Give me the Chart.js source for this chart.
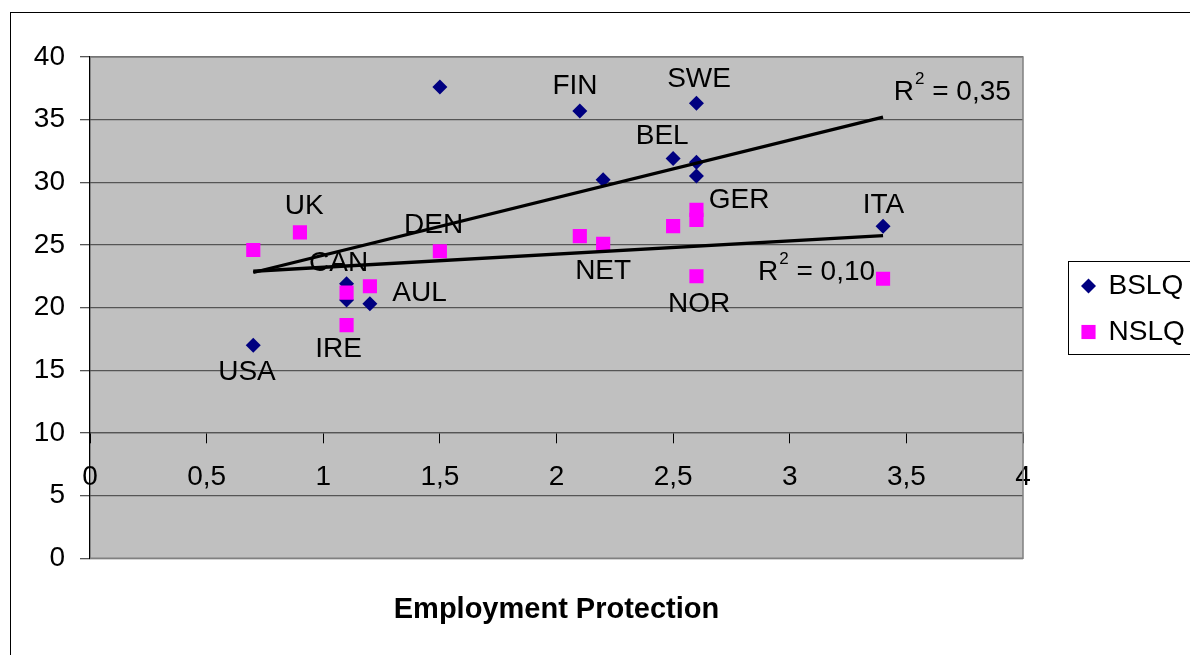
<!DOCTYPE html>
<html>
<head>
<meta charset="utf-8">
<script src="https://cdn.jsdelivr.net/npm/chart.js@4.4.1/dist/chart.umd.min.js"></script>
<style>
  html, body { margin: 0; padding: 0; background: #fff; }
</style>
</head>
<body>
<canvas id="chart" width="1190" height="655"></canvas>
<script>
// Values
const bslqX = [0.7, 1.1, 1.1, 1.2, 1.5, 2.1, 2.2, 2.5, 2.6, 2.6, 2.6, 3.4];
const bslqY = [17.0, 21.9, 20.6, 20.3, 37.6, 35.7, 30.2, 31.9, 31.6, 30.5, 36.3, 26.5];

const nslqX = [0.7, 0.9, 1.1, 1.1, 1.2, 1.5, 2.1, 2.2, 2.5, 2.6, 2.6, 2.6, 3.4];
const nslqY = [24.6, 26.0, 21.2, 18.6, 21.7, 24.5, 25.7, 25.1, 26.5, 27.8, 27.0, 22.5, 22.3];

// trend line ends
const trendX = [0.7, 3.4];
const bslqTrendY = [22.8, 35.2];
const nslqTrendY = [22.9, 25.75];

// country labels (data units)
const labelText = ['USA', 'UK', 'CAN', 'AUL', 'IRE', 'DEN', 'FIN', 'SWE', 'BEL', 'GER', 'NET', 'NOR', 'ITA'];
const labelX = [0.673, 0.918, 1.066, 1.413, 1.066, 1.473, 2.079, 2.611, 2.453, 2.783, 2.2, 2.611, 3.402];
const labelY = [14.8, 28.07, 23.56, 21.17, 16.71, 26.56, 37.69, 38.22, 33.7, 28.6, 22.9, 20.3, 28.2];

// R² texts
const r2Text = ['0,35', '0,10'];
const r2X = [3.446, 2.864];
const r2Y = [36.57, 22.23];

const xTicks = ['0', '0,5', '1', '1,5', '2', '2,5', '3', '3,5', '4'];
const yTicks = ['0', '5', '10', '15', '20', '25', '30', '35', '40'];

const FONT = "'Liberation Sans', Arial, sans-serif";
Chart.defaults.font.family = FONT;
Chart.defaults.font.size = 28;
Chart.defaults.color = '#000';

const toPoints = (xs, ys) => xs.map((x, i) => ({ x: x, y: ys[i] }));

// background, plot area, outer frame
const framePlugin = {
  id: 'frame',
  beforeDraw: (chart) => {
    const ctx = chart.ctx;
    const a = chart.chartArea;
    ctx.save();
    ctx.fillStyle = '#fff';
    ctx.fillRect(0, 0, chart.width, chart.height);
    ctx.fillStyle = '#c0c0c0';
    ctx.fillRect(a.left, a.top, a.right - a.left, a.bottom - a.top);
    ctx.strokeStyle = '#000';
    ctx.lineWidth = 1;
    ctx.strokeRect(10.5, 12.5, 1400, 1000);
    ctx.restore();
  },
  afterDraw: (chart) => {
    const ctx = chart.ctx;
    const a = chart.chartArea;
    ctx.save();
    ctx.strokeStyle = '#808080';
    ctx.lineWidth = 1.5;
    ctx.beginPath();
    ctx.moveTo(a.left, a.top);
    ctx.lineTo(a.right, a.top);
    ctx.lineTo(a.right, a.bottom);
    ctx.lineTo(a.left, a.bottom);
    ctx.stroke();

    // legend box
    const lx = a.right + 45.5;
    const ly = 261.5;
    ctx.strokeStyle = '#000';
    ctx.lineWidth = 1;
    ctx.strokeRect(lx, ly, 300, 93);
    const rows = [286, 332];
    chart.data.datasets.slice(0, 2).forEach((ds, i) => {
      ctx.fillStyle = ds.backgroundColor;
      Chart.helpers.drawPoint(ctx, { pointStyle: ds.pointStyle, radius: ds.pointRadius, rotation: 0, borderWidth: 0 }, lx + 20, rows[i]);
      ctx.fillStyle = '#000';
      ctx.font = '28px ' + FONT;
      ctx.textAlign = 'left';
      ctx.textBaseline = 'middle';
      ctx.fillText(ds.label, lx + 40, rows[i]);
    });
    ctx.restore();
  }
};

// country names and R² texts
const labelPlugin = {
  id: 'labels',
  afterDatasetsDraw: (chart) => {
    const ctx = chart.ctx;
    const xs = chart.scales.x;
    const ys = chart.scales.y;
    ctx.save();
    ctx.fillStyle = '#000';
    ctx.font = '28px ' + FONT;
    ctx.textAlign = 'center';
    ctx.textBaseline = 'middle';
    labelText.forEach((t, i) => {
      ctx.fillText(t, xs.getPixelForValue(labelX[i]), ys.getPixelForValue(labelY[i]));
    });

    ctx.textAlign = 'left';
    ctx.textBaseline = 'alphabetic';
    r2Text.forEach((t, i) => {
      let px = xs.getPixelForValue(r2X[i]);
      const py = ys.getPixelForValue(r2Y[i]);
      ctx.font = '28px ' + FONT;
      ctx.fillText('R', px, py);
      px += ctx.measureText('R').width + 1;
      ctx.font = '17px ' + FONT;
      ctx.fillText('2', px, py - 16);
      px += ctx.measureText('2').width;
      ctx.font = '28px ' + FONT;
      ctx.fillText(' = ' + t, px, py);
    });
    ctx.restore();
  }
};

const data = {
  datasets: [
    {
      label: 'BSLQ',
      data: toPoints(bslqX, bslqY),
      backgroundColor: '#000080',
      pointStyle: 'rectRot',
      pointRadius: 7.5,
      pointBorderWidth: 0,
      order: 2
    },
    {
      label: 'NSLQ',
      data: toPoints(nslqX, nslqY),
      backgroundColor: '#ff00ff',
      pointStyle: 'rect',
      pointRadius: 10,
      pointBorderWidth: 0,
      order: 1
    },
    {
      label: 'BSLQ trend',
      data: toPoints(trendX, bslqTrendY),
      showLine: true,
      borderColor: '#000',
      borderWidth: 3.3,
      pointRadius: 0,
      order: 0
    },
    {
      label: 'NSLQ trend',
      data: toPoints(trendX, nslqTrendY),
      showLine: true,
      borderColor: '#000',
      borderWidth: 3.3,
      pointRadius: 0,
      order: 0
    }
  ]
};

const config = {
  type: 'scatter',
  data: data,
  options: {
    responsive: false,
    animation: false,
    events: [],
    layout: {
      padding: { left: 10, top: 57, right: 167, bottom: 0 }
    },
    scales: {
      x: {
        type: 'linear',
        position: { y: 10 },
        min: 0,
        max: 4,
        grid: {
          drawOnChartArea: false,
          drawTicks: true,
          tickLength: 10,
          color: '#000',
          lineWidth: 1
        },
        border: { display: true, color: '#555', width: 1.3 },
        ticks: {
          stepSize: 0.5,
          padding: 18,
          maxRotation: 0,
          autoSkip: false,
          callback: (v, i) => xTicks[i]
        }
      },
      y: {
        min: 0,
        max: 40,
        afterFit: (scale) => { scale.width = 80; },
        grid: {
          color: '#555',
          lineWidth: 1.3,
          tickLength: 10
        },
        border: { display: true, color: '#000', width: 1.3 },
        ticks: {
          stepSize: 5,
          padding: 15,
          callback: (v, i) => yTicks[i]
        }
      }
    },
    plugins: {
      legend: { display: false },
      tooltip: { enabled: false },
      title: {
        display: true,
        text: 'Employment Protection',
        position: 'bottom',
        fullSize: false,
        color: '#000',
        font: { size: 29, weight: 'bold', family: FONT },
        padding: { top: 34, bottom: 28 }
      }
    }
  },
  plugins: [framePlugin, labelPlugin]
};

const myChart = new Chart(document.getElementById('chart'), config);
</script>
</body>
</html>
